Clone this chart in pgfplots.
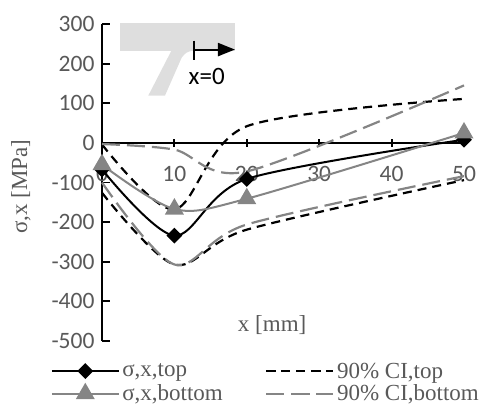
\documentclass[border=0pt]{standalone}
\usepackage{pgfplots}
\pgfplotsset{compat=1.18}
\usetikzlibrary{arrows.meta}
\usepackage{fontspec}
\setmainfont{Liberation Serif}
\newfontfamily\calfont{Carlito}
\definecolor{tickgray}{HTML}{595959}
\definecolor{sergray}{HTML}{858585}
\definecolor{insetgray}{HTML}{DEDEDE}
\begin{document}
\begin{tikzpicture}
\begin{axis}[
  scale only axis, width=362bp, height=317bp,
  xmin=0, xmax=50, ymin=-500, ymax=300,
  clip=false,
  axis x line=middle, axis y line=left,
  axis line style={line width=1.8bp, -, black},
  xtick={0,10,20,30,40,50}, xticklabels={0,10,20,30,40,50},
  ytick={-500,-400,-300,-200,-100,0,100,200,300},
  yticklabels={-500,-400,-300,-200,-100,0,100,200,300},
  hide obscured x ticks=false, hide obscured y ticks=false,
  major tick length=8bp,
  tick style={line width=1.8bp, black},
  xtick align=center, ytick align=inside,
  xticklabel style={font=\calfont\fontsize{23.5bp}{28bp}\selectfont, text=tickgray, anchor=north, yshift=-16bp},
  yticklabel style={font=\calfont\fontsize{23.5bp}{28bp}\selectfont, text=tickgray, anchor=east, xshift=-4bp},
  every axis x label/.style={at={(axis description cs:0.47,0.05)}, anchor=center, font=\fontsize{23bp}{27bp}\selectfont, text=tickgray},
  every axis y label/.style={at={(axis description cs:-0.224,0.487)}, rotate=90, anchor=center, font=\fontsize{23bp}{27bp}\selectfont, text=tickgray},
  xlabel={x [mm]}, ylabel={σ,x [MPa]},
  legend columns=2,
  legend cell align=left,
  legend image code/.code={\draw[mark repeat=2,mark phase=2,#1] plot coordinates {(0bp,0bp) (33.5bp,0bp) (67bp,0bp)};},
  legend style={at={(axis description cs:-0.142,-0.06)}, anchor=north west, draw=none, fill=none, inner sep=0pt,
    font=\fontsize{23bp}{27bp}\selectfont, text=tickgray, row sep=0.5bp,
    nodes={inner sep=2.5bp, text=tickgray},
    /tikz/every even column/.append style={column sep=40bp}},
]
\coordinate (O) at (axis cs:0,-500);
\coordinate (P) at (axis cs:0,0);
\addplot[black, line width=2bp, smooth, tension=0.5, mark=square*, mark size=4.6bp, mark options={rotate=45, solid, fill=black}]
  coordinates {(0,-67) (10,-234) (20,-91) (50,8)};
\addlegendentry{σ,x,top}
\addplot[black, line width=2.2bp, dash pattern=on 9bp off 6bp, smooth, tension=0.5]
  coordinates {(0,-4) (10,-168) (20,42) (50,111)};
\addlegendentry{90\% CI,top}
\addplot[sergray, line width=2bp, smooth, tension=0.5, mark=triangle*, mark size=9bp, mark options={solid, fill=sergray}]
  coordinates {(0,-55) (10,-167) (20,-141) (50,25)};
\addlegendentry{σ,x,bottom}
\addplot[sergray, line width=2.2bp, dash pattern=on 18bp off 7bp, smooth, tension=0.5]
  coordinates {(0,-3) (10,-17) (20,-72) (50,145)};
\addlegendentry{90\% CI,bottom}
\addplot[black, line width=2.2bp, dash pattern=on 9bp off 6bp, smooth, tension=0.5, forget plot]
  coordinates {(0,-126) (10,-307) (20,-219) (50,-94)};
\addplot[sergray, line width=2.2bp, dash pattern=on 18bp off 7bp, smooth, tension=0.5, forget plot]
  coordinates {(0,-100) (10,-307) (20,-206) (50,-84)};
\end{axis}
\begin{scope}[shift={(P)}, x=1bp, y=-1bp]
  \fill[insetgray] (18,-120) rectangle (133,-92.3);
  \fill[insetgray] (69.7,-92.8) -- (46.3,-47.3) -- (63,-47.3) -- (79.7,-85.3) .. controls (84,-90.5) .. (92,-92.8) -- cycle;
  \draw[black, line width=2bp] (92.3,-102.3) -- (92.3,-83.3);
  \draw[black, line width=2bp, -{Triangle[length=17bp,width=13bp]}] (92.3,-93.3) -- (133,-93.3);
  \node[font=\calfont\fontsize{25bp}{30bp}\selectfont, text=black, inner sep=0pt] at (104.7,-66.6) {x=0};
\end{scope}
\pgfresetboundingbox
\path[use as bounding box] ([shift={(-102bp,-74bp)}]O) rectangle ([shift={(390bp,341bp)}]O);
\end{tikzpicture}
\end{document}
